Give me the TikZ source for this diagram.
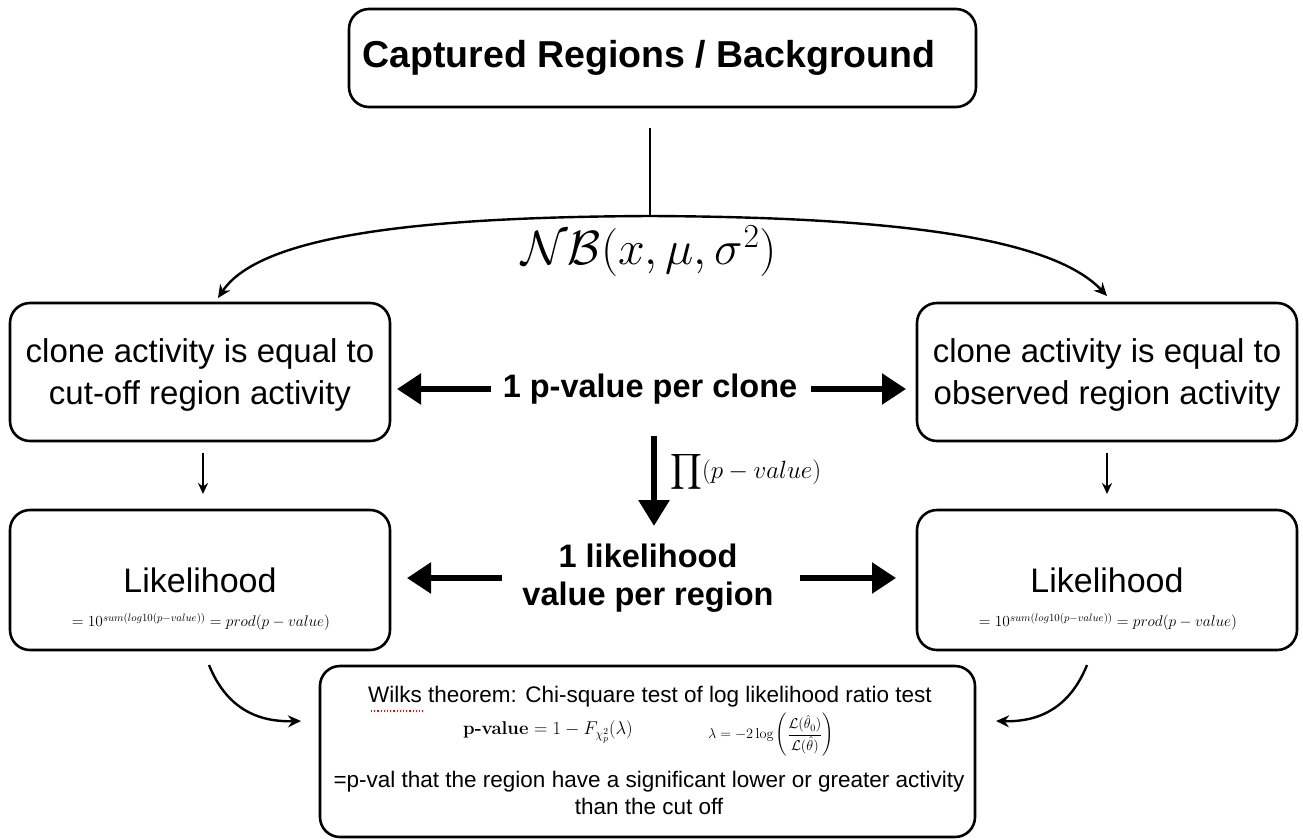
\documentclass[tikz,border=0pt]{standalone}
\usepackage{fix-cm}
\usepackage{amsmath}
\usepackage{fontspec}
\newfontfamily\hv{Liberation Sans}
\usetikzlibrary{arrows.meta}
\begin{document}
\begin{tikzpicture}[x=1pt,y=-1pt,
  box/.style={draw, line width=2.6pt, rounded corners=20pt, inner sep=0pt},
  thick arrow/.style={line width=5.5pt, -{Triangle[length=24pt,width=30pt]}},
  thin arrow/.style={line width=2pt, -{Stealth[length=11pt,width=10pt]}},
  curve arrow/.style={line width=2.4pt, -{Stealth[length=13pt,width=12pt]}},
  lbl/.style={inner sep=0pt, align=center}]
\useasboundingbox (0,0) rectangle (1303,839);

% boxes
\node[box, minimum width=627pt, minimum height=98pt] (top) at (662.5,58) {};
\node[lbl, font=\hv\bfseries\fontsize{37.5}{42}\selectfont] (toptxt) at (649,58) {Captured Regions / Background};

\node[box, minimum width=380pt, minimum height=138pt] (c1) at (200,372) {};
\node[lbl, font=\hv\fontsize{33}{42}\selectfont] (c1t) at (200,375) {clone activity is equal to\\cut-off region activity};
\node[box, minimum width=380pt, minimum height=138pt] (c2) at (1107,372) {};
\node[lbl, font=\hv\fontsize{33}{42}\selectfont] (c2t) at (1107,375) {clone activity is equal to\\observed region activity};

\node[box, minimum width=380pt, minimum height=140pt] (l1) at (200,580) {};
\node[lbl, font=\hv\fontsize{34}{38}\selectfont] (l1t) at (200,580) {Likelihood};
\node[lbl, font=\fontsize{15.4}{17}\selectfont] (l1f) at (201,622) {$=10^{sum(log10(p-value))}=prod(p-value)$};
\node[box, minimum width=380pt, minimum height=140pt] (l2) at (1107,580) {};
\node[lbl, font=\hv\fontsize{34}{38}\selectfont] (l2t) at (1107,580) {Likelihood};
\node[lbl, font=\fontsize{15.4}{17}\selectfont] (l2f) at (1108,622) {$=10^{sum(log10(p-value))}=prod(p-value)$};

\node[box, minimum width=655pt, minimum height=171pt] (w) at (647.5,751.5) {};
\node[lbl, font=\hv\fontsize{22.5}{27}\selectfont] (w1) at (650,697) {Wilks theorem: Chi-square test of log likelihood ratio test};
\node[lbl, font=\fontsize{18.5}{22}\selectfont] (w2) at (548,732) {\textbf{p-value} $= 1 - F_{\chi^2_p}(\lambda)$};
\node[lbl, font=\fontsize{14.3}{16}\selectfont] (w3) at (771,735) {$\lambda=-2\log\left(\dfrac{\mathcal{L}(\hat{\theta}_0)}{\mathcal{L}(\hat{\theta})}\right)$};
\node[lbl, font=\hv\fontsize{22.5}{27}\selectfont] (w4) at (649,793) {=p-val that the region have a significant lower or greater activity\\than the cut off};
\draw[red, line width=1.2pt, dotted] (371,711) -- (423,711);

% middle labels
\node[lbl, font=\hv\bfseries\fontsize{32.5}{36}\selectfont] (pv) at (650,389) {1 p-value per clone};
\node[lbl, font=\hv\bfseries\fontsize{32.5}{38}\selectfont] (lv) at (648,578) {1 likelihood\\value per region};
\node[lbl, font=\fontsize{48}{52}\selectfont] (nb) at (649,251) {$\mathcal{NB}(x,\mu,\sigma^2)$};
\node[lbl, font=\fontsize{25}{28}\selectfont, anchor=west] (pr) at (670,472) {$\displaystyle\prod(p-value)$};

% connectors
\coordinate (split) at (650,216);
\coordinate (topend) at (650,128);
\draw[line width=2pt] (topend) -- (split);
\coordinate (la) at (218,298);
\coordinate (ra) at (1107,296);
\draw[curve arrow] (split) .. controls (420,217) and (260,235) .. (la);
\draw[curve arrow] (split) .. controls (880,217) and (1050,235) .. (ra);

\coordinate (pvl) at (491,389); \coordinate (pvr) at (811,389);
\coordinate (pvlt) at (397,389); \coordinate (pvrt) at (906,389);
\draw[thick arrow] (pvl) -- (pvlt);
\draw[thick arrow] (pvr) -- (pvrt);

\coordinate (lvl) at (502,578); \coordinate (lvr) at (800,578);
\coordinate (lvlt) at (407,578); \coordinate (lvrt) at (896,578);
\draw[thick arrow] (lvl) -- (lvlt);
\draw[thick arrow] (lvr) -- (lvrt);

\coordinate (dtop) at (654,436); \coordinate (dbot) at (654,526);
\draw[line width=6pt, -{Triangle[length=26pt,width=30pt]}] (dtop) -- (dbot);

\coordinate (a1s) at (203,453); \coordinate (a1e) at (203,494);
\coordinate (a2s) at (1107,453); \coordinate (a2e) at (1107,494);
\draw[thin arrow] (a1s) -- (a1e);
\draw[thin arrow] (a2s) -- (a2e);

\coordinate (bl) at (209,665); \coordinate (br) at (1087,665);
\coordinate (ble) at (301,721); \coordinate (bre) at (996,721);
\draw[curve arrow] (bl) .. controls (228,712) and (262,722) .. (ble);
\draw[curve arrow] (br) .. controls (1068,712) and (1034,722) .. (bre);
\end{tikzpicture}
\end{document}
